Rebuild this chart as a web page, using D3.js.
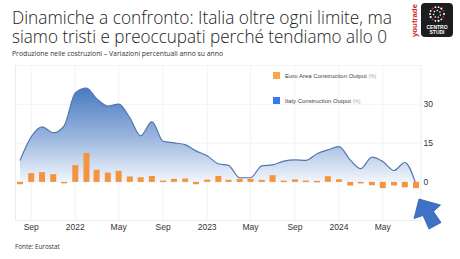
<!DOCTYPE html>
<html>
<head>
<meta charset="utf-8">
<script src="https://cdn.jsdelivr.net/npm/d3@7"></script>
<style>
  html, body { margin: 0; padding: 0; background: #fff; }
  svg { display: block; }
</style>
</head>
<body>
<svg id="chart" width="460" height="259"></svg>
<script>
// monthly observations, Aug 2021 .. Aug 2024
const months = [
  '2021-08', '2021-09', '2021-10', '2021-11', '2021-12',
  '2022-01', '2022-02', '2022-03', '2022-04', '2022-05', '2022-06',
  '2022-07', '2022-08', '2022-09', '2022-10', '2022-11', '2022-12',
  '2023-01', '2023-02', '2023-03', '2023-04', '2023-05', '2023-06',
  '2023-07', '2023-08', '2023-09', '2023-10', '2023-11', '2023-12',
  '2024-01', '2024-02', '2024-03', '2024-04', '2024-05', '2024-06',
  '2024-07', '2024-08'
]
const euroArea = [
  -0.9, 3.4, 3.8, 3.0, -0.5,
  6.5, 11.2, 4.7, 3.6, 4.3, 2.1,
  1.8, 2.3, 0.5, 1.2, 1.3, -0.9,
  0.9, 2.3, 0.8, 1.2, 1.2, 0.8,
  2.6, 0.5, 1.0, 0.5, 0.4, 2.2,
  1.0, -1.4, -0.6, -1.3, -2.4, -1.4,
  -2.1, -2.4
]
const italy = [
  8.3, 17.4, 21.3, 19.0, 21.7,
  34.4, 36.3, 32.2, 29.3, 30.1, 24.8,
  17.8, 23.3, 15.7, 15.1, 14.4, 12.0,
  10.1, 7.0, 6.4, 1.6, 1.6, 6.2,
  6.6, 8.0, 8.5, 8.3, 10.9, 12.4,
  13.6, 8.5, 5.1, 9.6, 7.9, 4.4,
  7.5, -1.0
]
const yTicks = [30, 15, 0]
const yGrid = [45, 30, 15, 0]
const xTicks = ['2021-09', '2022-01', '2022-05', '2022-09', '2023-01', '2023-05', '2023-09', '2024-01', '2024-05']
const monthNames = ['Jan', 'Feb', 'Mar', 'Apr', 'May', 'Jun', 'Jul', 'Aug', 'Sep', 'Oct', 'Nov', 'Dec']

const parse = d3.timeParse('%Y-%m')
const data = months.map((m, i) => ({ date: parse(m), ea: euroArea[i], it: italy[i] }))

const svg = d3.select('#chart')
const plotLeft = 15.5, plotRight = 421, plotTop = 65.5, plotBottom = 220.7

const x = d3.scaleTime()
  .domain([parse('2021-08'), parse('2024-08')])
  .range([20, 416])
const y = d3.scaleLinear()
  .domain([-15, 45])
  .range([plotBottom, plotTop])

// titles
svg.append('text')
  .attr('x', 12).attr('y', 24)
  .attr('textLength', 380).attr('lengthAdjust', 'spacingAndGlyphs')
  .style('font-family', 'Open Sans, sans-serif')
  .style('font-weight', '300')
  .style('font-size', '18.5px')
  .style('fill', '#222')
  .text('Dinamiche a confronto: Italia oltre ogni limite, ma')
svg.append('text')
  .attr('x', 12).attr('y', 42.5)
  .attr('textLength', 375).attr('lengthAdjust', 'spacingAndGlyphs')
  .style('font-family', 'Open Sans, sans-serif')
  .style('font-weight', '300')
  .style('font-size', '18.5px')
  .style('fill', '#222')
  .text('siamo tristi e preoccupati perché tendiamo allo 0')
svg.append('text')
  .attr('x', 12).attr('y', 56)
  .attr('textLength', 211).attr('lengthAdjust', 'spacingAndGlyphs')
  .style('font-family', 'Open Sans, sans-serif')
  .style('font-size', '7px')
  .style('fill', '#333')
  .text('Produzione nelle costruzioni – Variazioni percentuali anno su anno')

// grid
svg.append('g').selectAll('line').data(yGrid).enter().append('line')
  .attr('x1', plotLeft).attr('x2', plotRight)
  .attr('y1', d => y(d)).attr('y2', d => y(d))
  .attr('stroke', '#eef0f3').attr('stroke-width', 0.8)
svg.append('g').selectAll('line').data(xTicks).enter().append('line')
  .attr('x1', d => x(parse(d))).attr('x2', d => x(parse(d)))
  .attr('y1', plotTop).attr('y2', plotBottom)
  .attr('stroke', '#eef0f3').attr('stroke-width', 0.8)
svg.append('path')
  .attr('d', `M${plotLeft},${plotTop}V${plotBottom}H${plotRight}V${plotTop}`)
  .attr('fill', 'none').attr('stroke', '#e4e6ea').attr('stroke-width', 0.8)

// gradient for the italy area
const grad = svg.append('defs').append('linearGradient')
  .attr('id', 'itFill')
  .attr('gradientUnits', 'userSpaceOnUse')
  .attr('x1', 0).attr('x2', 0)
  .attr('y1', y(37)).attr('y2', y(0))
grad.append('stop').attr('offset', 0).attr('stop-color', '#4577bf')
grad.append('stop').attr('offset', 0.55).attr('stop-color', '#9db8df')
grad.append('stop').attr('offset', 1).attr('stop-color', '#f2f6fc')

const area = d3.area()
  .x(d => x(d.date))
  .y0(y(0))
  .y1(d => y(d.it))
  .curve(d3.curveMonotoneX)
const line = d3.line()
  .x(d => x(d.date))
  .y(d => y(d.it))
  .curve(d3.curveMonotoneX)

svg.append('path').datum(data)
  .attr('d', area)
  .attr('fill', 'url(#itFill)')
svg.append('path').datum(data)
  .attr('d', line)
  .attr('fill', 'none')
  .attr('stroke', '#5277b0')
  .attr('stroke-width', 1.2)

// euro area bars
svg.append('g').selectAll('rect').data(data).enter().append('rect')
  .attr('x', d => x(d.date) - 3)
  .attr('width', 6)
  .attr('y', d => y(Math.max(0, d.ea)))
  .attr('height', d => Math.max(1.5, Math.abs(y(d.ea) - y(0))))
  .attr('fill', '#f5943f')

// axes labels
svg.append('g').selectAll('text').data(xTicks).enter().append('text')
  .attr('x', d => x(parse(d)))
  .attr('y', 230)
  .attr('text-anchor', 'middle')
  .style('font-family', 'Liberation Sans, Arial, sans-serif')
  .style('font-size', '8.5px')
  .style('fill', '#333')
  .text(d => {
    const dt = parse(d)
    return dt.getMonth() === 0 ? dt.getFullYear() : monthNames[dt.getMonth()]
  })
svg.append('g').selectAll('text').data(yTicks).enter().append('text')
  .attr('x', 423.5)
  .attr('y', d => y(d) + 3)
  .style('font-family', 'Liberation Sans, Arial, sans-serif')
  .style('font-size', '8.5px')
  .style('fill', '#333')
  .text(d => d)

// legend
const legend = [
  { name: 'Euro Area Construction Output', color: '#f7a64c', y: 75.5 },
  { name: 'Italy Construction Output', color: '#3a78ef', y: 100.5 }
]
const lg = svg.append('g').selectAll('g').data(legend).enter().append('g')
lg.append('rect')
  .attr('x', 273).attr('y', d => d.y - 3.5)
  .attr('width', 7).attr('height', 7)
  .attr('fill', d => d.color)
const lt = lg.append('text')
  .attr('x', 285).attr('y', d => d.y + 2)
  .style('font-family', 'Liberation Sans, Arial, sans-serif')
  .style('font-size', '6px')
  .style('fill', '#444')
lt.append('tspan').text(d => d.name + ' ')
lt.append('tspan').style('fill', '#aaa').style('font-size', '5px').text('(%)')

// source
svg.append('text')
  .attr('x', 15).attr('y', 249)
  .style('font-family', 'Open Sans, sans-serif')
  .style('font-size', '6.3px')
  .style('fill', '#333')
  .text('Fonte: Eurostat')

// arrow pointing at the last value
svg.append('path')
  .attr('d', 'M419,199 L440.5,205 L433.5,211.5 L441,222.5 L429,229 L423,215.5 L414,218.5 Z')
  .attr('fill', '#3f72c4')
  .attr('stroke', '#2f5ea8')
  .attr('stroke-width', 0.8)

// logo
const logo = svg.append('g')
logo.append('text')
  .attr('transform', 'translate(417,37) rotate(-90)')
  .style('font-family', 'Liberation Sans, Arial, sans-serif')
  .style('font-weight', 'bold')
  .style('font-size', '8px')
  .style('fill', '#d9232e')
  .attr('textLength', 33).attr('lengthAdjust', 'spacingAndGlyphs')
  .text('youtrade')
logo.append('rect')
  .attr('x', 421).attr('y', 3).attr('width', 32).attr('height', 34).attr('rx', 4)
  .attr('fill', '#1d1d1f')
const dots = d3.range(14).map(i => i * Math.PI * 2 / 14)
logo.selectAll('circle.ring').data(dots).enter().append('circle')
  .attr('class', 'ring')
  .attr('cx', a => 437 + Math.cos(a) * 7)
  .attr('cy', a => 14 + Math.sin(a) * 7)
  .attr('r', (a, i) => (i % 3 === 0 ? 1.1 : 0.9))
  .attr('fill', (a, i) => (i % 4 === 1 ? '#d9232e' : '#fff'))
logo.selectAll('circle.inner').data(dots.filter((a, i) => i % 2 === 0)).enter().append('circle')
  .attr('class', 'inner')
  .attr('cx', a => 437 + Math.cos(a + 0.3) * 3.5)
  .attr('cy', a => 14 + Math.sin(a + 0.3) * 3.5)
  .attr('r', 0.8)
  .attr('fill', '#fff')
logo.append('text')
  .attr('x', 437).attr('y', 28.5).attr('text-anchor', 'middle')
  .style('font-family', 'Liberation Sans, Arial, sans-serif')
  .style('font-weight', 'bold').style('font-size', '5px').style('fill', '#fff')
  .text('CENTRO')
logo.append('text')
  .attr('x', 437).attr('y', 34).attr('text-anchor', 'middle')
  .style('font-family', 'Liberation Sans, Arial, sans-serif')
  .style('font-weight', 'bold').style('font-size', '5px').style('fill', '#fff')
  .text('STUDI')
</script>
</body>
</html>
